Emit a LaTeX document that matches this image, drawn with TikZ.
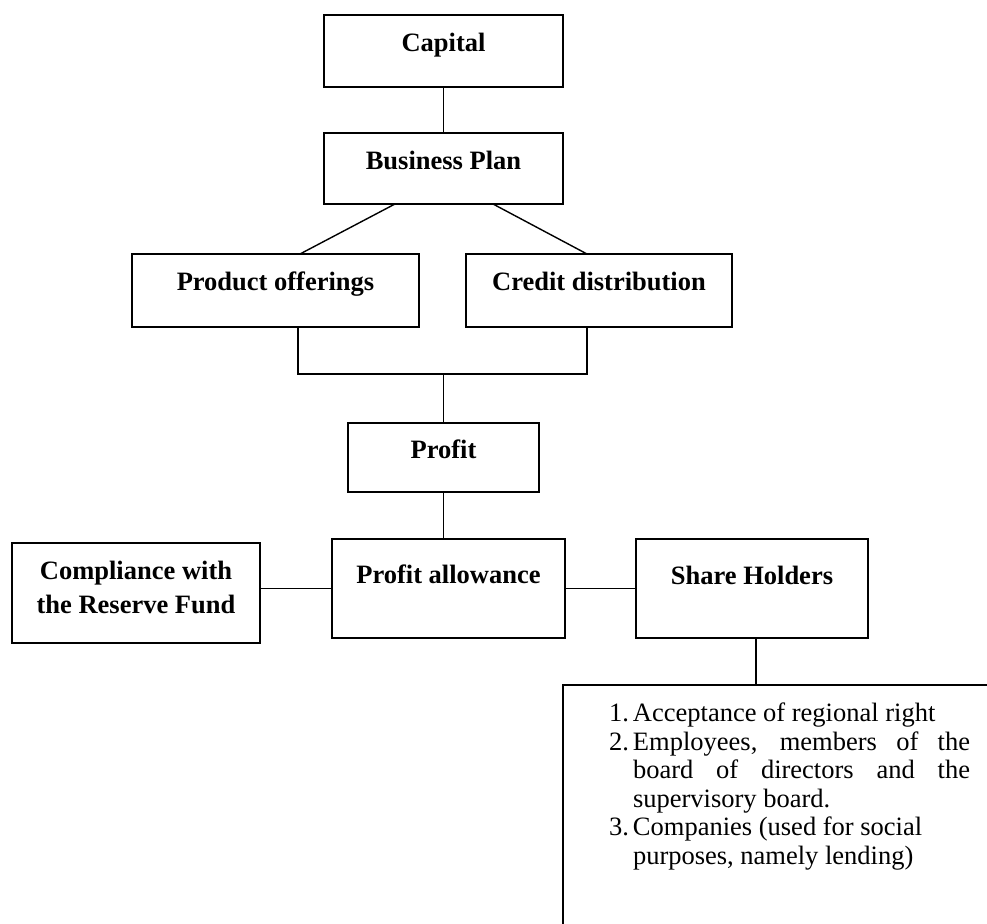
\documentclass[tikz,border=0pt]{standalone}
\usepackage{fontspec}
\setmainfont{Liberation Serif}
\usetikzlibrary{calc}
\begin{document}
\begin{tikzpicture}[x=0.5pt,y=-0.5pt,
  box/.style={draw, line width=1.1pt, rectangle, inner sep=0pt, outer sep=0pt},
  lbl/.style={inner sep=0pt, outer sep=0pt, anchor=base, font=\fontsize{13.25}{15}\selectfont\bfseries},
  conn/.style={line width=0.7pt},
  listfont/.style={font=\fontsize{13.25}{14.25}\selectfont}]
\useasboundingbox (0,0) rectangle (987,924);

% boxes
\node[box, minimum width=119.5pt, minimum height=36pt]   (cap) at (443.5,51)    {};
\node[box, minimum width=119.5pt, minimum height=35.5pt] (bp)  at (443.5,168.5) {};
\node[box, minimum width=143.5pt, minimum height=36.5pt] (po)  at (275.5,290.5) {};
\node[box, minimum width=133pt,   minimum height=36.5pt] (cd)  at (599,290.5)   {};
\node[box, minimum width=95.5pt,  minimum height=34.5pt] (pr)  at (443.5,457.5) {};
\node[box, minimum width=116.5pt, minimum height=49.5pt] (pa)  at (448.5,588.5) {};
\node[box, minimum width=124pt,   minimum height=50pt]   (cr)  at (136,593)     {};
\node[box, minimum width=116pt,   minimum height=49.5pt] (sh)  at (752,588.5)   {};
\node[draw=none, inner sep=0pt, outer sep=0pt, minimum width=212pt, minimum height=119.5pt] (lst) at (775,804.5) {};
\draw[line width=1.1pt] (lst.south west) -- (lst.north west) -- (lst.north east);

% labels
\node[lbl] (capt) at ($(cap.center)+(0,0.5)$) {Capital};
\node[lbl] (bpt)  at ($(bp.center)+(0,1)$)    {Business Plan};
\node[lbl] (pot)  at ($(po.center)+(0,0)$)    {Product offerings};
\node[lbl] (cdt)  at ($(cd.center)+(0,0)$)    {Credit distribution};
\node[lbl] (prt)  at ($(pr.center)+(0,0.8)$)  {Profit};
\node[lbl] (pat)  at ($(pa.center)+(0,-4.5)$) {Profit allowance};
\node[lbl] (sht)  at ($(sh.center)+(0,-4.2)$) {Share Holders};
\node[lbl] (crt1) at ($(cr.center)+(0,-13.7)$) {Compliance with};
\node[lbl] (crt2) at ($(cr.center)+(0,20.3)$)  {the Reserve Fund};

% list text
\node[listfont, inner sep=0pt, outer sep=0pt, anchor=base west] (items) at (609,722) {%
\begin{tabular}[t]{@{}l@{}}
\makebox[12pt][l]{1.}Acceptance of regional right\\
\makebox[12pt][l]{2.}\makebox[168.5pt][s]{Employees, members of the}\\
\makebox[12pt][l]{}\makebox[168.5pt][s]{board of directors and the}\\
\makebox[12pt][l]{}supervisory board.\\
\makebox[12pt][l]{3.}Companies (used for social\\
\makebox[12pt][l]{}purposes, namely lending)
\end{tabular}};

% connectors
\draw[conn] (cap.south) -- (bp.north);
\draw[conn] ($(bp.south west)+(71,0)$) -- ($(po.north west)+(168,0)$);
\draw[conn] ($(bp.south west)+(169,0)$) -- ($(cd.north west)+(121,0)$);
\coordinate (jl) at ($(po.south west)+(166,47)$);
\coordinate (jr) at ($(cd.south west)+(121,47)$);
\draw[conn] ($(po.south west)+(166,0)$) -- (jl) -- (jr) -- ($(cd.south west)+(121,0)$);
\draw[conn] (pr.north |- jl) -- (pr.north);
\draw[conn] (pr.south) -- (pr.south |- pa.north);
\draw[conn] (cr.east |- pa.west) -- (pa.west);
\draw[conn] (pa.east) -- (sh.west);
\draw[conn] ($(sh.south)+(4,0)$) -- ($(sh.south |- lst.north)+(4,0)$);
\end{tikzpicture}
\end{document}
